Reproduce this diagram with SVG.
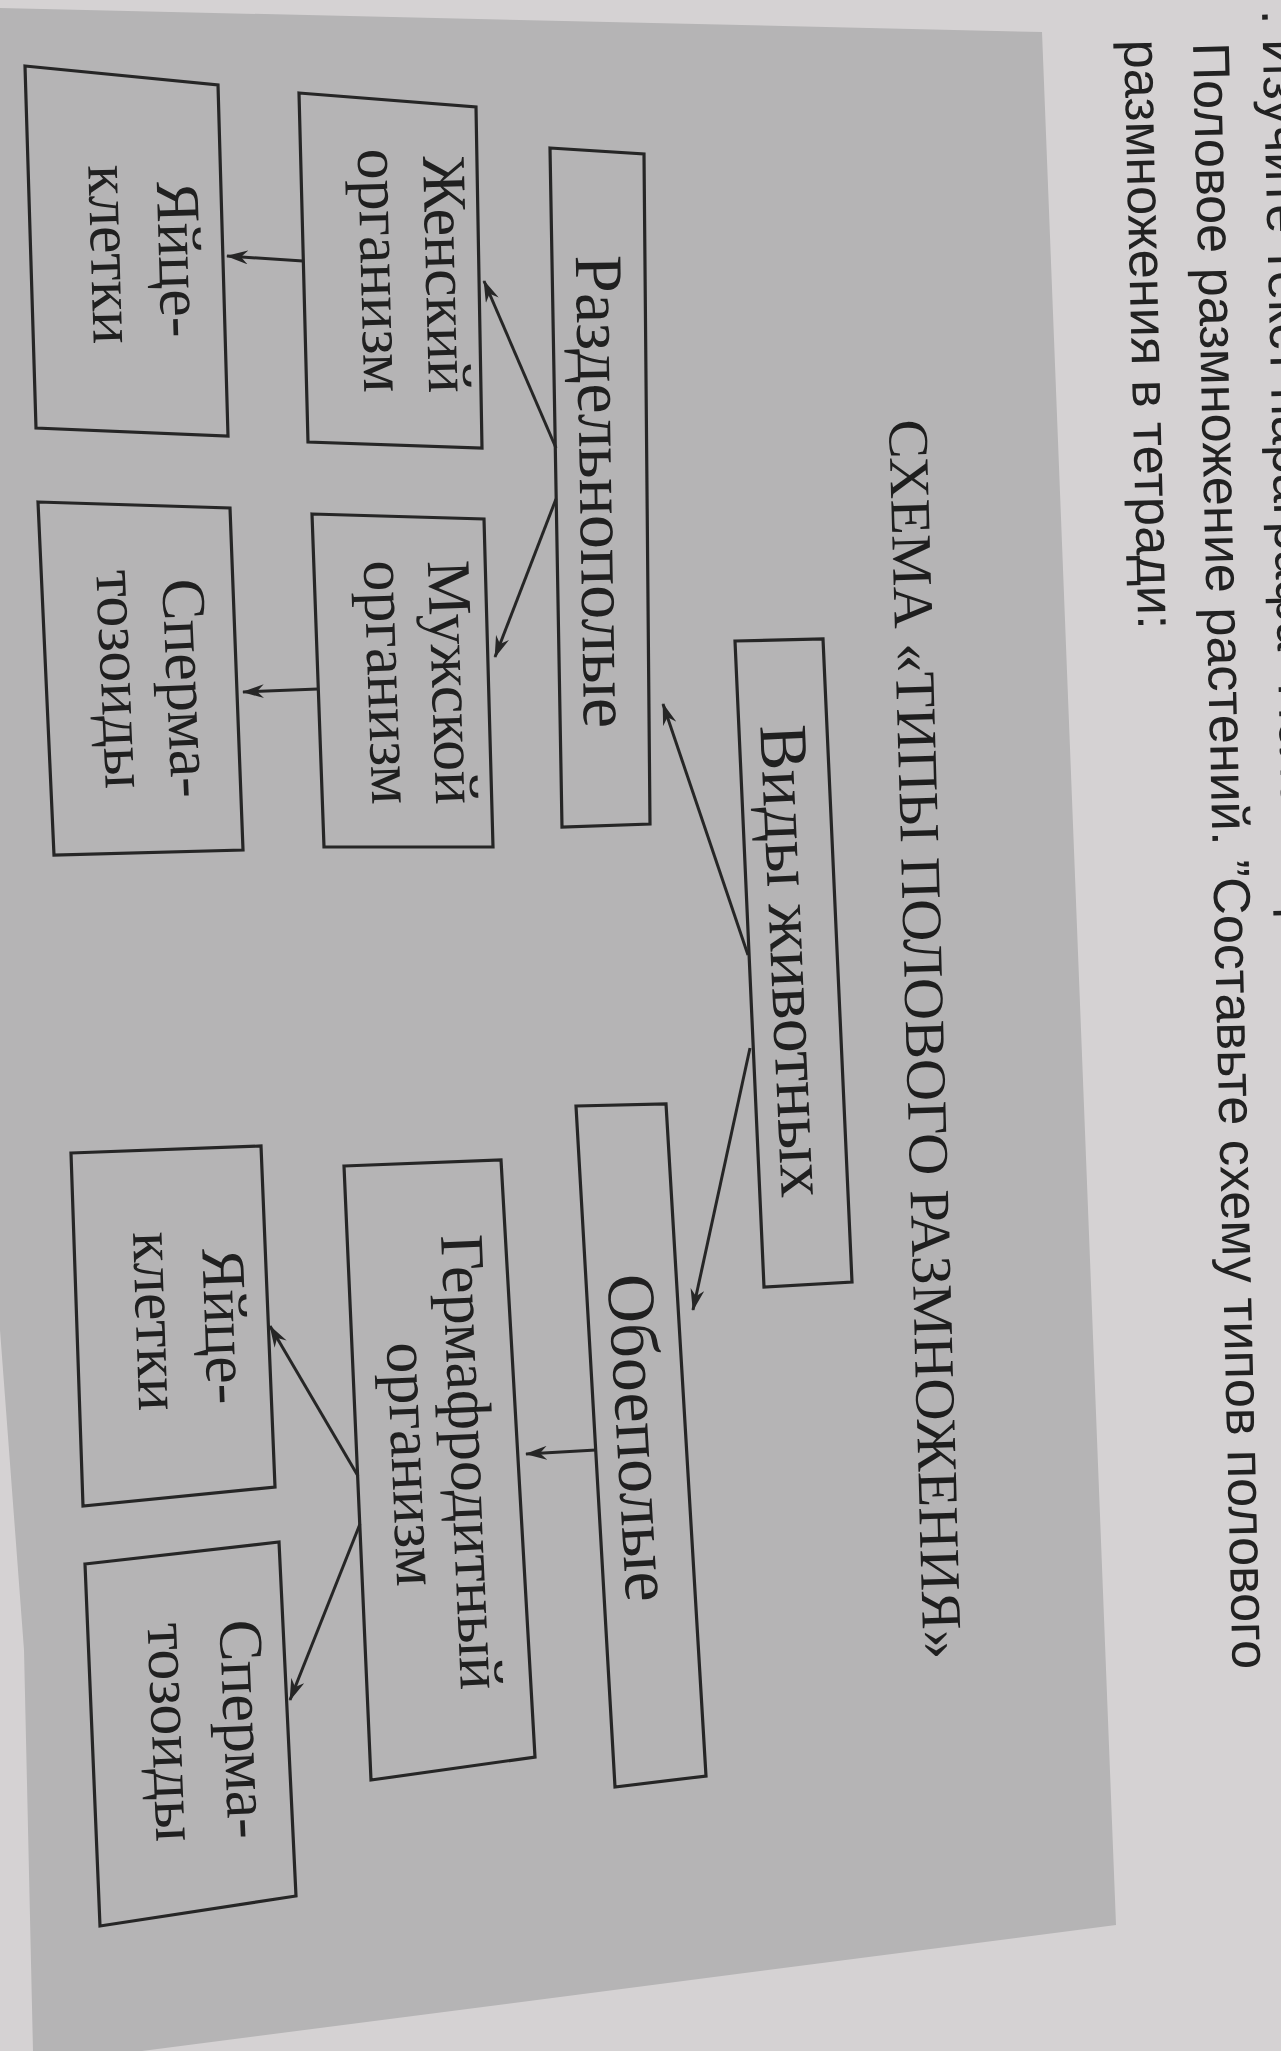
<svg xmlns="http://www.w3.org/2000/svg" width="1281" height="2051" viewBox="0 0 1281 2051">
<style>
.box{fill:none;stroke:#262626;stroke-width:3.2;stroke-linejoin:miter}
.lbl{font-family:"Liberation Serif","DejaVu Serif",serif;fill:#202020;text-anchor:middle}
.big{font-size:68px}
.in{font-size:62px}
.ttl{font-family:"Liberation Serif","DejaVu Serif",serif;font-size:57px;fill:#1e1e1e}
.txt{font-family:"Liberation Sans","Arimo",sans-serif;font-size:52px;fill:#222}
.con{stroke:#262626;stroke-width:3;fill:none}
</style>
<defs>
<marker id="ah" viewBox="0 0 22 14" refX="21" refY="7" markerWidth="22" markerHeight="14" markerUnits="userSpaceOnUse" orient="auto">
<path d="M0,0 L22,7 L0,14 L7,7 z" fill="#262626"/>
</marker>
</defs>
<rect x="0" y="0" width="1281" height="2051" fill="#d5d2d3"/>
<polygon points="0,8 1042,32 1116,1925 142,2051 33,2051 24,1650 0,1330" fill="#b5b4b5"/>

<g id="page-text">
<text class="txt" transform="translate(1262,10) rotate(88.6)">. Изучите текст параграфа ”Половое р</text>
<text class="txt" transform="translate(1193,43) rotate(88.6)" textLength="1627" lengthAdjust="spacingAndGlyphs">Половое размножение растений. ”Составьте схему типов полового</text>
<text class="txt" transform="translate(1124,40) rotate(88.6)" textLength="590" lengthAdjust="spacingAndGlyphs">размножения в тетради:</text>
</g>

<g id="title">
<text class="ttl" transform="translate(889,420) rotate(88.4)" textLength="1240" lengthAdjust="spacingAndGlyphs">СХЕМА «ТИПЫ ПОЛОВОГО РАЗМНОЖЕНИЯ»</text>
</g>

<g id="connectors">
<line class="con" x1="748" y1="955" x2="663" y2="704" marker-end="url(#ah)"/>
<line class="con" x1="750" y1="1048" x2="693" y2="1310" marker-end="url(#ah)"/>
<line class="con" x1="556" y1="448" x2="484" y2="281" marker-end="url(#ah)"/>
<line class="con" x1="556" y1="499" x2="495" y2="657" marker-end="url(#ah)"/>
<line class="con" x1="303" y1="261" x2="227" y2="256" marker-end="url(#ah)"/>
<line class="con" x1="318" y1="689" x2="243" y2="692" marker-end="url(#ah)"/>
<line class="con" x1="596" y1="1450" x2="526" y2="1454" marker-end="url(#ah)"/>
<line class="con" x1="358" y1="1476" x2="270" y2="1326" marker-end="url(#ah)"/>
<line class="con" x1="360" y1="1524" x2="290" y2="1700" marker-end="url(#ah)"/>
</g>

<g id="node-vidy">
<polygon class="box" points="735,641 823,639 852,1282 764,1287"/>
<text class="lbl big" transform="translate(771,962) rotate(87.4)">Виды животных</text>
</g>

<g id="node-razdelnopolye">
<polygon class="box" points="550,148 644,154 650,824 562,827"/>
<text class="lbl big" transform="translate(580,492) rotate(89)">Раздельнополые</text>
</g>

<g id="node-oboepolye">
<polygon class="box" points="576,1106 666,1104 706,1776 615,1787"/>
<text class="lbl big" transform="translate(617,1439) rotate(86.7)">Обоеполые</text>
</g>

<g id="node-zhenskiy">
<polygon class="box" points="299,93 476,107 482,448 308,442"/>
<text class="lbl in" transform="translate(426,275) rotate(88.5)">Женский</text>
<text class="lbl in" transform="translate(361,271) rotate(88.5)">организм</text>
</g>

<g id="node-muzhskoy">
<polygon class="box" points="312,514 484,519 493,847 324,847"/>
<text class="lbl in" transform="translate(432,683) rotate(88)">Мужской</text>
<text class="lbl in" transform="translate(368,683) rotate(88)">организм</text>
</g>

<g id="node-yaytse-1">
<polygon class="box" points="25,66 218,85 228,436 36,428"/>
<text class="lbl in" transform="translate(159,260) rotate(88.3)">Яйце-</text>
<text class="lbl in" transform="translate(91,255) rotate(88.3)">клетки</text>
</g>

<g id="node-sperma-1">
<polygon class="box" points="38,502 230,508 243,850 54,855"/>
<text class="lbl in" transform="translate(167,689) rotate(87.5)">Сперма-</text>
<text class="lbl in" transform="translate(101,680) rotate(87.5)">тозоиды</text>
</g>

<g id="node-germafrodit">
<polygon class="box" points="344,1166 501,1160 535,1757 371,1780"/>
<text class="lbl in" transform="translate(451,1463) rotate(87.5)">Гермафродитный</text>
<text class="lbl in" transform="translate(392,1465) rotate(87.5)">организм</text>
</g>

<g id="node-yaytse-2">
<polygon class="box" points="71,1153 261,1146 275,1487 83,1506"/>
<text class="lbl in" transform="translate(205,1327) rotate(88)">Яйце-</text>
<text class="lbl in" transform="translate(136,1322) rotate(88)">клетки</text>
</g>

<g id="node-sperma-2">
<polygon class="box" points="85,1564 279,1542 296,1896 100,1926"/>
<text class="lbl in" transform="translate(224,1730) rotate(87.6)">Сперма-</text>
<text class="lbl in" transform="translate(152,1733) rotate(87.6)">тозоиды</text>
</g>
</svg>
